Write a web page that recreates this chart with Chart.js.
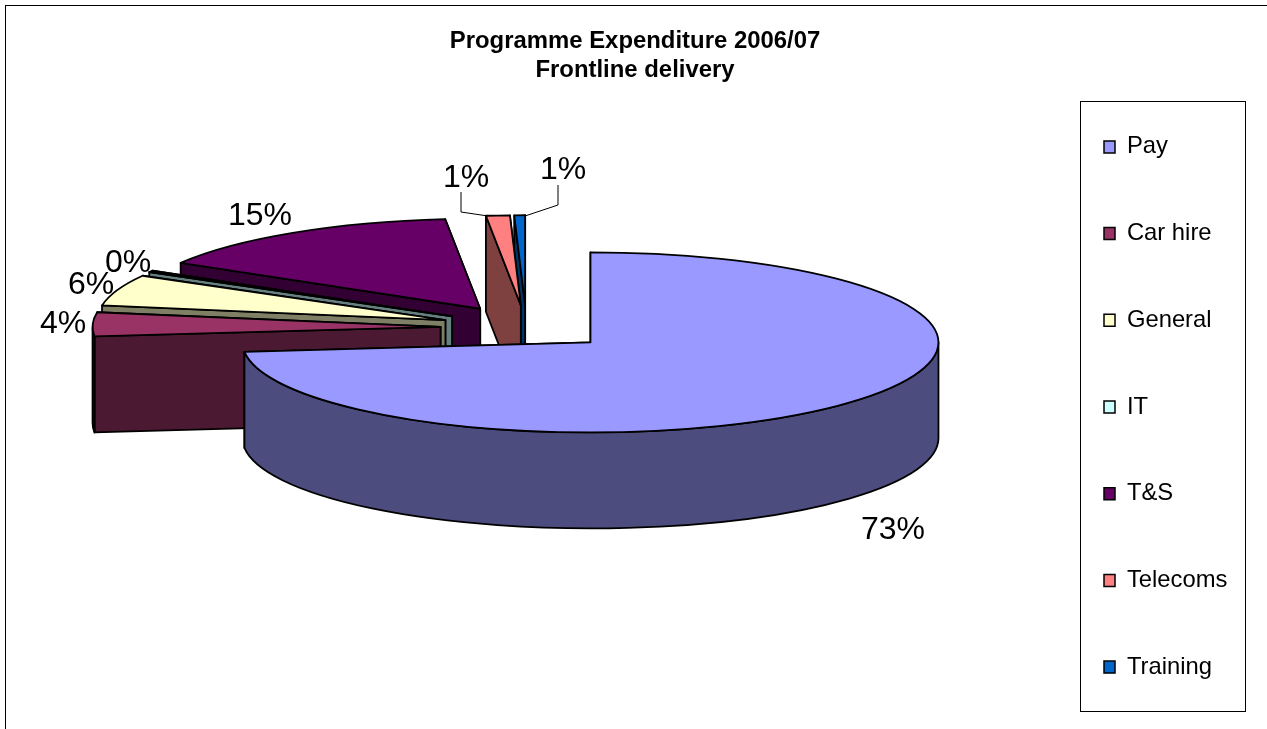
<!DOCTYPE html>
<html>
<head>
<meta charset="utf-8">
<title>Programme Expenditure 2006/07</title>
<style>
  html, body { margin: 0; padding: 0; background: #fff; }
  canvas { display: block; }
</style>
<script src="https://cdn.jsdelivr.net/npm/chart.js@4/dist/chart.umd.js"></script>
</head>
<body>
<canvas id="myChart" width="1267" height="729"></canvas>
<script>
// Share of spend per budget line, in percent
const categories = ["Pay", "Car hire", "General", "IT", "T&S", "Telecoms", "Training"];
const shares = [73.3, 4.3, 5.6, 0.3, 14.9, 1.1, 0.5];
const colors = ["#9999FF", "#993366", "#FFFFCC", "#CCFFFF", "#660066", "#FF8080", "#0066CC"];

const FONT = "'Liberation Sans', Arial, sans-serif";

// Side walls are the slice colour at half brightness
function halfTone(hex) {
  const n = parseInt(hex.slice(1), 16);
  return `rgb(${(n >> 16) >> 1}, ${((n >> 8) & 255) >> 1}, ${(n & 255) >> 1})`;
}

// Draws the pie's arc elements as an exploded, tilted disc
const tiltedPie = {
  id: "tiltedPie",
  beforeDatasetDraw(chart, args, opts) {
    const { ctx } = chart;
    const { cx, cy, rx, ry, depth, explode } = opts;
    const arcs = chart.getDatasetMeta(args.index).data;
    const rim = (x, y, a) => [x + rx * Math.cos(a), y + ry * Math.sin(a)];

    ctx.save();
    ctx.lineWidth = 1.8;
    ctx.lineJoin = "round";
    ctx.strokeStyle = "#000";

    const shape = (fill, trace) => {
      ctx.fillStyle = fill;
      ctx.beginPath();
      trace();
      ctx.closePath();
      ctx.fill();
      ctx.stroke();
    };

    // back to front, so Pay ends up on top
    for (let i = arcs.length - 1; i >= 0; i--) {
      const { startAngle, endAngle } = arcs[i];
      const mid = (startAngle + endAngle) / 2;
      const x = cx + explode * Math.cos(mid);
      const y = cy + explode * (ry / rx) * Math.sin(mid);
      const side = halfTone(colors[i]);

      // the two cut faces
      for (const a of [endAngle, startAngle]) {
        const [ox, oy] = rim(x, y, a);
        shape(side, () => {
          ctx.moveTo(x, y);
          ctx.lineTo(ox, oy);
          ctx.lineTo(ox, oy + depth);
          ctx.lineTo(x, y + depth);
        });
      }

      // outer wall, only the part facing the viewer
      const from = Math.max(startAngle, 0);
      const to = Math.min(endAngle, Math.PI);
      if (to > from) {
        shape(side, () => {
          ctx.ellipse(x, y, rx, ry, 0, from, to);
          ctx.ellipse(x, y + depth, rx, ry, 0, to, from, true);
        });
      }

      // top face
      shape(colors[i], () => {
        ctx.moveTo(x, y);
        ctx.ellipse(x, y, rx, ry, 0, startAngle, endAngle);
      });
    }
    ctx.restore();
    return false;
  },
};

// Outer frame, legend box, leader lines and percentage labels
const decorations = {
  id: "decorations",
  beforeLayout(chart) {
    // keep all seven legend rows in one column despite the title's height
    const legend = chart.legend;
    if (!legend.oneColumn) {
      const fit = legend.fit;
      legend.fit = function () {
        this.maxHeight = 2 * chart.height;
        fit.call(this);
      };
      legend.oneColumn = true;
    }
  },
  beforeDraw(chart, args, opts) {
    const { ctx } = chart;
    ctx.save();
    ctx.fillStyle = "#fff";
    ctx.fillRect(0, 0, chart.width, chart.height);
    ctx.strokeStyle = "#000";
    ctx.lineWidth = 1;
    ctx.strokeRect(5.5, 5.5, chart.width + 20, chart.height + 20);
    ctx.strokeRect(...opts.legendBox);
    ctx.restore();
  },
  afterLayout(chart, args, opts) {
    // the legend column sits inside its own box, not against the canvas edge
    const legend = chart.legend;
    const pad = legend.options.labels.padding;
    legend.left = opts.legendX - pad;
    legend.top = opts.legendY - pad;
    legend.bottom = 2 * chart.height;
    // title is centred a touch right of the canvas middle
    chart.titleBlock.left += 1.5;
    chart.titleBlock.right += 1.5;
  },
  afterDatasetsDraw(chart, args, opts) {
    const { ctx } = chart;
    ctx.save();
    ctx.strokeStyle = "#000";
    ctx.lineWidth = 1;
    for (const line of opts.leaders) {
      ctx.beginPath();
      line.forEach(([x, y], j) => (j ? ctx.lineTo(x, y) : ctx.moveTo(x, y)));
      ctx.stroke();
    }
    ctx.fillStyle = "#000";
    ctx.font = `32px ${FONT}`;
    ctx.textAlign = "center";
    ctx.textBaseline = "middle";
    shares.forEach((v, i) => {
      const [x, y] = opts.labelAt[i];
      ctx.fillText(`${Math.round(v)}%`, x, y);
    });
    ctx.restore();
  },
};

new Chart(document.getElementById("myChart"), {
  type: "pie",
  data: {
    labels: categories,
    datasets: [{
      data: shares,
      backgroundColor: colors,
      borderColor: "#000",
      borderWidth: 1.5,
    }],
  },
  plugins: [tiltedPie, decorations],
  options: {
    responsive: false,
    animation: false,
    plugins: {
      tooltip: { enabled: false },
      title: {
        display: true,
        text: ["Programme Expenditure 2006/07", "Frontline delivery"],
        color: "#000",
        font: { family: FONT, size: 23.9, weight: "bold", lineHeight: 1.25 },
        padding: { top: 26, bottom: 10 },
      },
      legend: {
        position: "right",
        align: "start",
        labels: {
          color: "#000",
          font: { family: FONT, size: 23.8 },
          boxWidth: 11,
          boxHeight: 12,
          padding: 62.9,
        },
      },
      tiltedPie: { cx: 526.5, cy: 327.5, rx: 348, ry: 90, depth: 96, explode: 86 },
      decorations: {
        legendBox: [1080.5, 101.5, 165, 610],
        legendX: 1104,
        legendY: 135,
        labelAt: [[893, 530], [63, 324], [91, 285], [128, 263], [260, 216], [466, 178], [563, 170]],
        leaders: [
          [[461, 192], [461, 212], [488, 216]],
          [[558, 185], [558, 205], [525, 216]],
        ],
      },
    },
  },
});
</script>
</body>
</html>
